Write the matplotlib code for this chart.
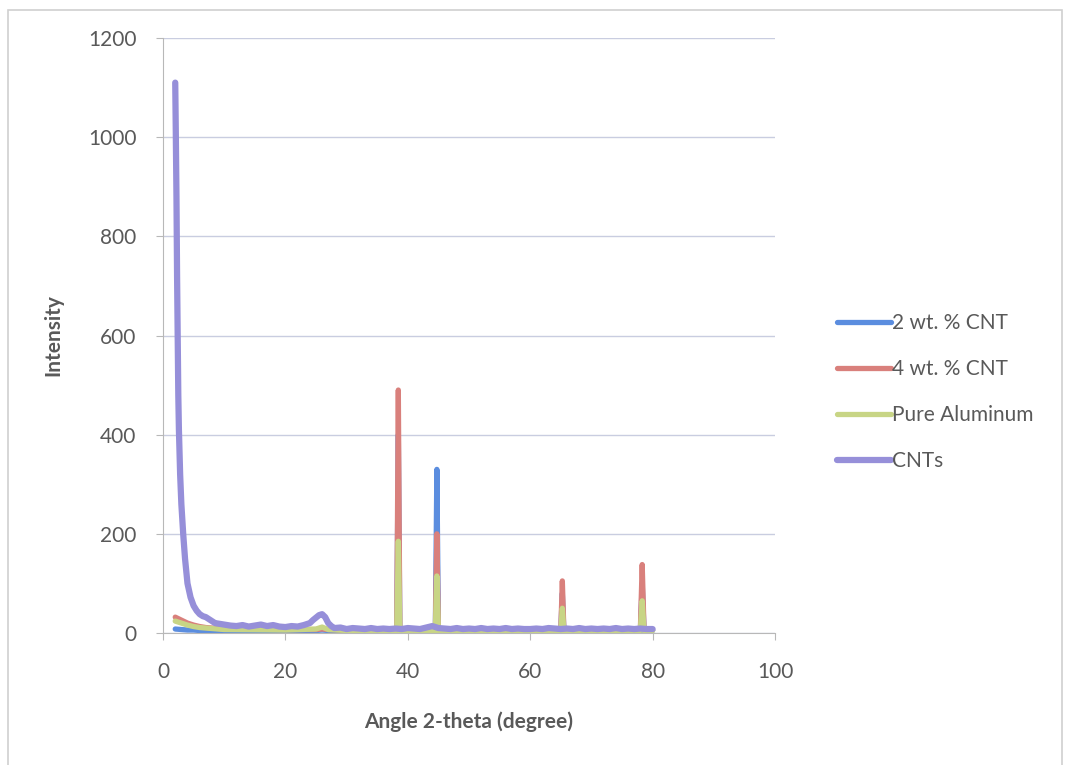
import matplotlib.pyplot as plt
from matplotlib.patches import Rectangle

# CNTs pattern
cnt_x = [2.0, 2.1, 2.2, 2.3, 2.4, 2.5, 2.6, 2.8, 3.0, 3.3, 3.6, 4.0, 4.5, 5.0, 5.5, 6.0, 6.5,
         7.0, 7.5, 8.0, 8.5, 9.0, 10, 11, 12, 13, 14, 15, 16, 17, 18, 19, 20, 21, 22, 23,
         24, 24.5, 25, 25.5, 26, 26.5, 27, 27.5, 28, 29, 30, 31, 32, 33, 34, 35, 36, 37,
         38, 39, 40, 41, 42, 43, 44, 45, 46, 47, 48, 49, 50, 51, 52, 53, 54, 55, 56, 57,
         58, 59, 60, 61, 62, 63, 64, 65, 66, 67, 68, 69, 70, 71, 72, 73, 74, 75, 76, 77,
         78, 79, 80]
cnt_y = [1110, 1000, 880, 720, 600, 480, 410, 320, 260, 200, 150, 100, 72, 55, 45, 38, 34,
         32, 28, 24, 20, 19, 17, 15, 14, 16, 13, 15, 17, 14, 16, 13, 12, 14, 13, 16,
         20, 26, 31, 36, 38, 32, 20, 14, 10, 11, 8, 10, 9, 8, 10, 8, 9, 8,
         9, 8, 10, 9, 8, 11, 14, 10, 9, 8, 10, 8, 9, 8, 10, 8, 9, 8, 10, 8,
         9, 8, 8, 9, 8, 10, 9, 8, 9, 8, 10, 8, 9, 8, 9, 8, 10, 8, 9, 8,
         9, 8, 8]

# aluminium based samples
al_x = [2, 3, 4, 5, 6, 7, 8, 10, 20, 25, 26, 27, 30, 38.2, 38.45, 38.7, 44.5, 44.75, 45.0,
        60, 65.0, 65.25, 65.5, 78.0, 78.3, 78.6, 80]
wt2_y = [8, 7, 6, 6, 5, 5, 5, 5, 5, 5, 6, 5, 5, 5, 400, 5, 5, 330, 5,
         5, 5, 80, 5, 5, 100, 5, 5]
wt4_y = [32, 26, 20, 16, 13, 11, 10, 8, 7, 7, 8, 7, 6, 6, 490, 6, 6, 200, 6,
         6, 6, 105, 6, 6, 138, 6, 6]
pure_y = [24, 20, 16, 13, 11, 10, 9, 7, 6, 8, 12, 7, 5, 5, 185, 5, 5, 115, 5,
          5, 5, 50, 5, 5, 65, 5, 5]

plt.rcParams['font.family'] = ['Lato', 'DejaVu Sans']

fig = plt.figure(figsize=(10.7, 7.65), dpi=100)
fig.patches.append(Rectangle((8 / 1070, -0.01), 1054 / 1070, 1 - 10 / 765 + 0.01,
                             transform=fig.transFigure, fill=False,
                             edgecolor='#d0d0d0', linewidth=1.2))
ax = fig.add_axes([163 / 1070, 1 - 633 / 765, 612 / 1070, 595 / 765])

ax.plot(al_x, wt2_y, color='#5b8ddf', lw=3.8, label='2 wt. % CNT', solid_capstyle='round')
ax.plot(al_x, wt4_y, color='#d9807c', lw=3.8, label='4 wt. % CNT', solid_capstyle='round')
ax.plot(al_x, pure_y, color='#c8d585', lw=3.8, label='Pure Aluminum', solid_capstyle='round')
ax.plot(cnt_x, cnt_y, color='#968fd9', lw=4.5, label='CNTs', solid_capstyle='round')

ax.set_xlim(0, 100)
ax.set_ylim(0, 1200)
ax.set_xticks(range(0, 101, 20))
ax.set_yticks(range(0, 1201, 200))
ax.grid(axis='y', color='#c9cde0', linewidth=1)
ax.set_axisbelow(True)
for s in ['top', 'right']:
    ax.spines[s].set_visible(False)
for s in ['left', 'bottom']:
    ax.spines[s].set_color('#b8b8b8')
ax.tick_params(colors='#b8b8b8', labelcolor='#595959', labelsize=15, length=5)
ax.tick_params(axis='x', pad=16)
ax.tick_params(axis='y', pad=14)

ax.set_xlabel('Angle 2-theta (degree)', fontsize=15, fontweight='bold', color='#595959', labelpad=21)
ax.set_ylabel('Intensity', fontsize=15, fontweight='bold', color='#595959', labelpad=18)

leg = ax.legend(loc='center left', bbox_to_anchor=(1.07, 0.405), frameon=False,
                fontsize=15, handlelength=2.6, handletextpad=0.05, labelspacing=1.25)
for t in leg.get_texts():
    t.set_color('#595959')

fig.savefig('out.png', dpi=100)
